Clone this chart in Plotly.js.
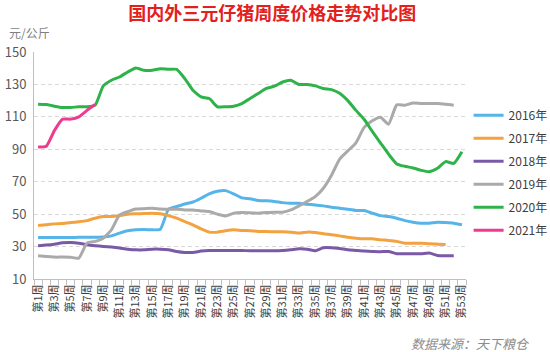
<!DOCTYPE html>
<html>
<head>
<meta charset="utf-8">
<script src="https://cdn.plot.ly/plotly-3.0.1.min.js"></script>
<style>html,body{margin:0;padding:0;background:#fff;}#chart{width:550px;height:352px;}</style>
</head>
<body>
<div id="chart"></div>
<script>
// Week numbers
const weeks = Array.from({length: 53}, (_, i) => i + 1);
const tickWeeks = [1,3,5,7,9,11,13,15,17,19,21,23,25,27,29,31,33,35,37,39,41,43,45,47,49,51,53];
const tickLabels = tickWeeks.map(w => '第' + w + '周');

const seriesNames = ['2016年','2017年','2018年','2019年','2020年','2021年'];

const price2016 = [35.6,35.6,35.6,35.6,35.6,35.7,35.8,35.8,35.9,36.6,
  38.3,39.7,40.3,40.5,40.3,40.7,53.0,54.7,56.3,57.5,
  59.8,62.5,64.1,64.5,62.5,60.0,59.5,58.4,58.2,57.8,
  57.1,56.7,56.7,56.1,55.7,55.1,54.3,53.7,53.0,52.3,
  52.2,50.6,49.1,48.5,47.5,46.0,45.0,44.4,44.4,45.0,
  44.8,44.4,43.4];
const price2017 = [43.0,43.5,44.0,44.3,44.8,45.3,46.0,47.5,48.5,48.5,
  49.1,50.0,50.2,50.4,50.6,50.2,49.1,47.5,45.4,43.4,
  40.9,38.9,38.9,39.7,40.3,39.9,39.8,39.3,39.3,39.1,
  39.1,38.9,38.3,38.9,38.7,37.9,37.3,36.6,35.8,35.2,
  34.8,34.8,34.2,33.8,33.2,32.1,32.1,32.1,31.7,31.5,
  31.3];
const price2018 = [30.5,30.9,31.5,32.3,32.5,32.1,31.1,30.5,30.1,29.7,
  29.1,28.4,28.0,28.0,28.4,28.4,28.0,27.0,26.4,26.4,
  27.2,27.6,27.6,27.6,27.6,27.6,27.4,27.4,27.4,27.4,
  27.6,28.0,28.6,28.4,27.4,29.3,29.3,28.8,28.0,27.6,
  27.2,27.0,26.8,27.0,25.6,25.6,25.6,25.6,26.0,24.5,
  24.3,24.3];
const price2019 = [24.3,23.9,23.5,23.5,23.4,22.9,32.1,33.2,35.2,40.3,
  49.5,51.6,53.2,53.4,53.6,53.2,53.0,53.0,52.6,52.6,
  52.0,51.6,50.0,48.9,50.6,51.0,50.8,50.6,51.0,51.2,
  51.2,52.6,55.1,57.8,60.8,66.0,74.0,84.0,89.0,94.0,
  103.5,107.6,109.8,105.5,117.4,117.2,118.6,118.2,118.2,118.2,
  117.8,117.2];
const price2020 = [117.8,117.6,116.6,115.8,115.8,116.2,116.2,117.2,129.1,132.6,
  134.6,137.7,140.2,138.7,138.7,139.7,139.3,139.3,133.6,126.4,
  122.3,121.3,116.2,116.2,116.6,118.2,121.3,124.4,127.5,128.9,
  131.5,132.6,130.0,129.9,129.1,127.5,126.8,124.5,120.0,114.0,
  108.5,101.0,94.0,87.0,81.0,79.5,78.5,77.0,76.2,78.3,
  82.4,81.3,88.5];
const price2021 = [91.4,91.8,101.5,108.6,108.6,110.0,114.0,117.6];

const seriesValues = [price2016, price2017, price2018, price2019, price2020, price2021];
const seriesColors = ['#56b4e9','#f4a140','#7a5aa6','#aaaaaa','#2db34a','#ee3b8f'];

const traces = seriesValues.map((vals, i) => ({
  type: 'scatter',
  mode: 'lines',
  name: seriesNames[i],
  legendgroup: 'g' + i,
  x: weeks.slice(0, vals.length),
  y: vals,
  line: {color: seriesColors[i], width: 3, shape: 'spline', smoothing: 0.5},
  hoverinfo: 'skip'
}));

const fontFam = '"Noto Sans CJK SC", "Noto Sans", sans-serif';

const layout = {
  width: 550, height: 352,
  margin: {l: 34, r: 84, t: 52, b: 73, autoexpand: false},
  paper_bgcolor: '#ffffff',
  plot_bgcolor: '#ffffff',
  font: {family: fontFam, color: '#595959'},
  title: {
    text: '<b>国内外三元仔猪周度价格走势对比图</b>',
    font: {family: fontFam, size: 18, color: '#e3211c'},
    x: 0.495, xref: 'container', xanchor: 'center',
    y: 0.962, yref: 'container', yanchor: 'middle'
  },
  xaxis: {
    range: [0.5, 53.5],
    tickmode: 'array',
    tickvals: tickWeeks,
    ticktext: tickLabels,
    tickangle: -90,
    tickfont: {size: 11, color: '#404040', family: fontFam},
    ticks: '',
    showgrid: false,
    zeroline: false,
    showline: true,
    linecolor: '#bfbfbf',
    linewidth: 1,
    automargin: false,
    minor: {tick0: 0.5, dtick: 1, ticks: 'outside', ticklen: 5, tickcolor: '#bfbfbf', showgrid: false}
  },
  yaxis: {
    range: [10, 150],
    tickmode: 'array',
    tickvals: [10,30,50,70,90,110,130,150],
    tickfont: {size: 13, color: '#595959', family: fontFam},
    showgrid: true,
    gridcolor: '#d9d9d9',
    griddash: '4px,3px',
    gridwidth: 1,
    zeroline: false,
    showline: true,
    linecolor: '#bfbfbf',
    linewidth: 1,
    ticks: '',
    automargin: false,
    ticklabelstandoff: 4
  },
  legend: {
    x: 1.006, xanchor: 'left',
    y: 0.785, yanchor: 'top',
    traceorder: 'grouped',
    tracegroupgap: 4,
    font: {size: 12, color: '#404040', family: fontFam},
    bgcolor: 'rgba(0,0,0,0)',
    itemclick: false
  },
  annotations: [
    {text: '元/公斤', xref: 'paper', yref: 'paper', x: -0.062, y: 1.084,
     xanchor: 'left', yanchor: 'middle', showarrow: false,
     font: {size: 12, color: '#7f7f7f', family: fontFam}},
    {text: '<i>数据来源：天下粮仓</i>', xref: 'paper', yref: 'paper', x: 1.153, y: -0.282,
     xanchor: 'right', yanchor: 'middle', showarrow: false,
     font: {size: 13, color: '#8c8c8c', family: fontFam}}
  ],
  showlegend: true
};

Plotly.newPlot('chart', traces, layout, {displayModeBar: false, staticPlot: true});
</script>
</body>
</html>
